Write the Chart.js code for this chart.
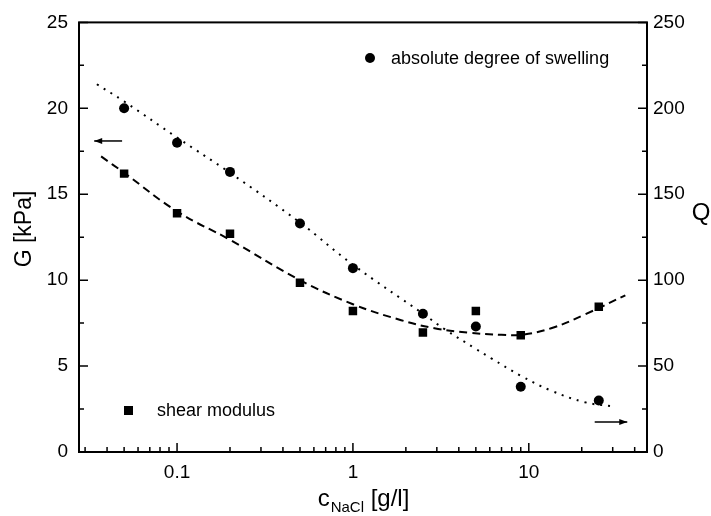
<!DOCTYPE html>
<html>
<head>
<meta charset="utf-8">
<script src="https://cdn.jsdelivr.net/npm/chart.js@4.4.0/dist/chart.umd.min.js"></script>
<style>
  html, body { margin: 0; padding: 0; background: #fff; }
  #wrap { width: 711px; height: 516px; }
</style>
</head>
<body>
<div id="wrap"><canvas id="chart" width="711" height="516"></canvas></div>
<script>
const conc = [0.05, 0.1, 0.2, 0.5, 1, 2.5, 5, 9, 25];
const shearModulus = [16.2, 13.9, 12.7, 9.85, 8.2, 6.95, 8.2, 6.8, 8.45];
const swelling = [200, 180, 163, 133, 107, 80.5, 73, 38, 30];

// Fit curves
const fitGx = [0.037, 0.05, 0.1, 0.2, 0.5, 1, 1.88, 2.91, 4.51, 6.98, 9.06, 13.4, 20.8, 35.4];
const fitG = [17.2, 16.25, 14.0, 12.35, 10.0, 8.6, 7.67, 7.2, 6.95, 6.82, 6.82, 7.2, 8.0, 9.12];
const fitQx = [0.035, 0.05, 0.1, 0.2, 0.5, 1, 2.5, 3.32, 5, 6.12, 9, 13.4, 20.8, 30];
const fitQ = [214, 204, 183, 162.5, 133.5, 109, 80.5, 71.5, 60, 54.5, 44.4, 35.7, 29, 26.5];

// Axis ticks
const xTicks = [0.1, 1, 10];
const xTickLabels = ['0.1', '1', '10'];
const xMinor = [0.03, 0.04, 0.05, 0.06, 0.07, 0.08, 0.09,
                0.2, 0.3, 0.4, 0.5, 0.6, 0.7, 0.8, 0.9,
                2, 3, 4, 5, 6, 7, 8, 9, 20, 30, 40];
const gMinor = [2.5, 7.5, 12.5, 17.5, 22.5];

const FONT = "'Liberation Sans', Arial, Helvetica, sans-serif";
Chart.defaults.font.family = FONT;
Chart.defaults.color = '#000';

const pts = (xs, ys) => xs.map((v, i) => ({ x: v, y: ys[i] }));

// Frame, inward ticks, titles, legend and arrows
const decorations = {
    id: 'decorations',
    afterDatasetsDraw(chart) {
        const { ctx, chartArea: a, scales } = chart;
        const sx = scales.x, sy = scales.y;
        ctx.save();
        ctx.strokeStyle = '#000';
        ctx.fillStyle = '#000';

        // frame
        ctx.lineWidth = 2;
        ctx.strokeRect(a.left, a.top, a.right - a.left, a.bottom - a.top);

        // ticks pointing into the plot
        ctx.lineWidth = 1.5;
        ctx.beginPath();
        xTicks.forEach(v => {
            const p = sx.getPixelForValue(v);
            ctx.moveTo(p, a.bottom); ctx.lineTo(p, a.bottom - 9);
        });
        xMinor.forEach(v => {
            const p = sx.getPixelForValue(v);
            ctx.moveTo(p, a.bottom); ctx.lineTo(p, a.bottom - 5);
        });
        sy.ticks.forEach(t => {
            const p = sy.getPixelForValue(t.value);
            ctx.moveTo(a.left, p); ctx.lineTo(a.left + 9, p);
            ctx.moveTo(a.right, p); ctx.lineTo(a.right - 9, p);
        });
        gMinor.forEach(v => {
            const p = sy.getPixelForValue(v);
            ctx.moveTo(a.left, p); ctx.lineTo(a.left + 5, p);
            ctx.moveTo(a.right, p); ctx.lineTo(a.right - 5, p);
        });
        ctx.stroke();

        // axis titles
        ctx.font = '23px ' + FONT;
        ctx.textAlign = 'center';
        ctx.textBaseline = 'alphabetic';
        ctx.save();
        ctx.translate(31, 229);
        ctx.rotate(-Math.PI / 2);
        ctx.fillText('G [kPa]', 0, 0);
        ctx.restore();

        ctx.font = '24px ' + FONT;
        ctx.textBaseline = 'middle';
        ctx.fillText('Q', 701, 213);

        // x title with subscript
        ctx.textBaseline = 'alphabetic';
        ctx.textAlign = 'left';
        const big = '24px ' + FONT, small = '15px ' + FONT;
        ctx.font = big; const wc = ctx.measureText('c').width;
        ctx.font = small; const ws = ctx.measureText('NaCl').width;
        ctx.font = big; const wu = ctx.measureText(' [g/l]').width;
        let tx = (a.left + a.right) / 2 - (wc + ws + wu) / 2;
        const base = 506;
        ctx.fillText('c', tx, base); tx += wc + 1;
        ctx.font = small; ctx.fillText('NaCl', tx, base + 6); tx += ws;
        ctx.font = big; ctx.fillText(' [g/l]', tx, base);

        // legend entries
        ctx.font = '18px ' + FONT;
        ctx.textBaseline = 'middle';
        ctx.beginPath();
        ctx.arc(370, 58, 5, 0, Math.PI * 2);
        ctx.fill();
        ctx.fillText('absolute degree of swelling', 391, 59);
        ctx.fillRect(124, 406, 9, 9);
        ctx.fillText('shear modulus', 157, 411);

        // arrows showing which axis belongs to which series
        const arrow = (x0, x1, yv, scale, dir) => {
            const p0 = sx.getPixelForValue(x0), p1 = sx.getPixelForValue(x1);
            const py = scale.getPixelForValue(yv);
            ctx.lineWidth = 1.5;
            ctx.beginPath(); ctx.moveTo(p0, py); ctx.lineTo(p1, py); ctx.stroke();
            const tip = dir < 0 ? p0 : p1;
            ctx.beginPath();
            ctx.moveTo(tip, py);
            ctx.lineTo(tip - dir * 8, py - 3);
            ctx.lineTo(tip - dir * 8, py + 3);
            ctx.closePath(); ctx.fill();
        };
        arrow(0.0338, 0.0487, 18.1, sy, -1);
        arrow(23.7, 36.3, 17.4, scales.y2, 1);

        ctx.restore();
    }
};

new Chart(document.getElementById('chart'), {
    type: 'scatter',
    data: {
        datasets: [
            {
                label: 'shear modulus',
                data: pts(conc, shearModulus),
                yAxisID: 'y',
                pointStyle: 'rect',
                pointRadius: 6,
                backgroundColor: '#000',
                borderColor: '#000',
                borderWidth: 0
            },
            {
                label: 'absolute degree of swelling',
                data: pts(conc, swelling),
                yAxisID: 'y2',
                pointStyle: 'circle',
                pointRadius: 5,
                backgroundColor: '#000',
                borderColor: '#000',
                borderWidth: 0
            },
            {
                label: 'G fit',
                data: pts(fitGx, fitG),
                yAxisID: 'y',
                showLine: true,
                pointRadius: 0,
                borderColor: '#000',
                borderWidth: 2,
                borderDash: [8, 5],
                tension: 0.4
            },
            {
                label: 'Q fit',
                data: pts(fitQx, fitQ),
                yAxisID: 'y2',
                showLine: true,
                pointRadius: 0,
                borderColor: '#000',
                borderWidth: 2,
                borderDash: [2, 6],
                tension: 0.4
            }
        ]
    },
    options: {
        responsive: false,
        animation: false,
        layout: { padding: { top: 22, left: 0, right: 0, bottom: 0 } },
        plugins: {
            legend: { display: false },
            tooltip: { enabled: false }
        },
        scales: {
            x: {
                type: 'logarithmic',
                position: 'bottom',
                min: 0.0277,
                max: 47,
                grid: { display: false, drawTicks: false },
                border: { display: false },
                ticks: {
                    font: { size: 19 },
                    color: '#000',
                    padding: 9,
                    autoSkip: false,
                    maxRotation: 0,
                    callback: (v) => {
                        const i = xTicks.indexOf(v);
                        return i >= 0 ? xTickLabels[i] : '';
                    }
                },
                afterBuildTicks: (scale) => {
                    scale.ticks = xTicks.map(v => ({ value: v }));
                },
                afterFit: (scale) => { scale.height = 64; }
            },
            y: {
                position: 'left',
                min: 0,
                max: 25,
                grid: { display: false, drawTicks: false },
                border: { display: false },
                ticks: { stepSize: 5, font: { size: 19 }, color: '#000', padding: 11 },
                afterFit: (scale) => { scale.width = 79; }
            },
            y2: {
                position: 'right',
                min: 0,
                max: 250,
                grid: { display: false, drawTicks: false },
                border: { display: false },
                ticks: { stepSize: 50, font: { size: 19 }, color: '#000', padding: 6 },
                afterFit: (scale) => { scale.width = 64; }
            }
        }
    },
    plugins: [decorations]
});
</script>
</body>
</html>
